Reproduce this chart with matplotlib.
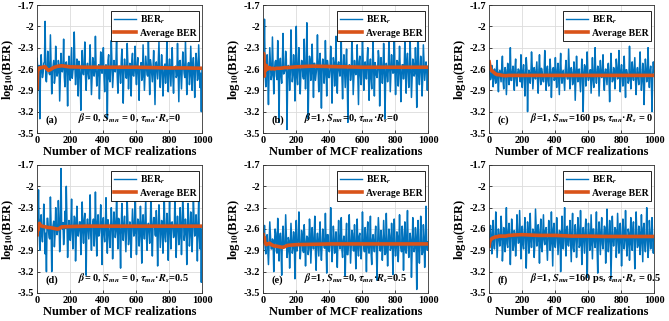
import numpy as np
import matplotlib
matplotlib.use("Agg")
import matplotlib.pyplot as plt

plt.rcParams['font.family'] = ['Liberation Serif', 'DejaVu Serif']
plt.rcParams['font.weight'] = 'bold'
plt.rcParams['mathtext.fontset'] = 'stix'
plt.rcParams['axes.unicode_minus'] = False

# ---------------- data: per-realization BER (spiky samples) ----------------
ber_a = [
-2.45,-2.88,-3.30,-2.40,-2.72,-2.52,-1.93,-2.78,-2.35,-2.66,-2.12,-2.95,-2.55,-2.80,-2.28,-2.70,-2.48,-3.05,-2.38,-2.64,-2.18,-2.85,-2.50,-3.12,-2.42,
-2.76,-2.30,-2.62,-2.08,-2.82,-2.46,-2.98,-2.56,-3.18,-2.34,-2.68,-2.22,-2.90,-2.52,-2.74,-2.26,-2.96,-2.44,-2.70,-2.14,-2.84,-2.58,-3.02,-2.36,-2.66,
-2.30,-2.92,-2.54,-3.30,-2.40,-2.78,-2.20,-2.86,-2.48,-2.64,-2.10,-2.94,-2.56,-2.80,-2.32,-3.08,-2.46,-2.72,-2.24,-2.88,-2.52,-2.98,-2.38,-2.70,-2.28,
-2.82,-2.44,-3.04,-2.58,-2.76,-2.26,-2.90,-2.42,-2.68,-2.16,-2.96,-2.54,-2.78,-2.34,-3.10,-2.50,-2.74,-2.22,-2.86,-2.40,-2.98,-2.56,-2.80,-2.18,-2.92,
-2.46,-2.84,-2.30,-2.94,-2.60,-2.72,-2.24,-3.06,-2.48,-2.88,-2.36,-2.66,-2.20,-2.96,-2.52,-2.82,-2.28,-2.90,-2.44,-3.00,-2.38,-2.76,-2.26,-2.86,-3.20]
ber_b = [
-2.55,-1.90,-2.85,-2.40,-3.10,-2.30,-2.75,-2.15,-2.95,-2.50,-2.70,-2.20,-3.35,-2.45,-2.80,-2.10,-2.65,-2.35,-3.45,-2.55,-2.90,-2.05,-2.78,-2.40,-3.05,
-2.00,-2.82,-2.30,-2.95,-2.48,-2.70,-2.18,-2.88,-1.95,-3.30,-2.42,-2.76,-2.25,-3.00,-2.52,-2.66,-2.12,-2.92,-2.38,-3.15,-2.46,-2.80,-2.20,-2.98,-2.56,
-2.72,-2.28,-3.08,-2.44,-2.84,-2.14,-2.94,-2.50,-2.70,-2.22,-3.02,-2.40,-2.86,-2.32,-3.35,-2.54,-2.76,-2.16,-2.96,-2.48,-2.68,-2.26,-3.10,-2.42,-2.82,
-2.10,-2.90,-2.50,-2.74,-2.30,-3.04,-2.46,-2.88,-2.20,-2.98,-2.56,-2.72,-2.34,-3.12,-2.44,-2.80,-2.24,-3.30,-2.52,-2.78,-2.18,-2.92,-2.40,-2.66,-2.12,
-2.96,-2.48,-2.84,-2.28,-3.06,-2.54,-2.74,-2.22,-2.94,-2.38,-2.86,-2.16,-3.00,-2.46,-2.70,-2.30,-3.14,-1.95,-2.82,-2.42,-2.98,-2.26,-2.76,-2.50,-2.90]
ber_c = [
-2.50,-2.75,-2.55,-2.85,-2.60,-2.80,-2.48,-2.92,-2.62,-2.78,-2.42,-2.88,-2.58,-2.96,-2.52,-2.82,-2.30,-2.76,-2.56,-2.90,-2.46,-2.84,-2.60,-2.72,-2.40,
-2.86,-2.54,-2.98,-2.44,-3.20,-2.62,-2.80,-2.36,-2.88,-2.58,-2.74,-2.50,-2.94,-2.40,-2.82,-2.64,-2.78,-2.34,-2.90,-2.56,-2.84,-2.46,-3.00,-2.60,-2.76,
-2.44,-2.86,-2.52,-2.96,-2.38,-2.80,-2.62,-2.90,-2.48,-2.74,-2.32,-2.88,-2.58,-2.82,-2.50,-3.04,-2.42,-2.78,-2.60,-2.92,-2.46,-3.20,-2.54,-2.84,-2.36,
-2.76,-2.62,-2.94,-2.44,-2.86,-2.30,-2.80,-2.56,-2.98,-2.48,-2.72,-2.40,-2.90,-2.60,-2.82,-2.52,-3.06,-2.38,-2.78,-2.58,-2.88,-2.46,-2.74,-2.34,-2.92,
-2.54,-2.84,-2.42,-3.00,-2.62,-2.80,-2.28,-2.88,-2.50,-2.76,-2.44,-2.96,-2.58,-2.82,-2.36,-2.90,-2.52,-3.10,-2.46,-2.78,-2.30,-2.86,-2.56,-3.20,-2.50]
ber_d = [
-2.62,-2.05,-2.90,-2.40,-2.78,-2.25,-2.95,-3.20,-2.45,-2.72,-2.15,-3.20,-2.55,-2.85,-2.30,-2.68,-2.20,-2.92,-1.75,-2.60,-2.82,-2.35,-2.00,-3.00,-2.48,
-2.76,-2.18,-2.88,-2.42,-3.05,-2.28,-2.70,-2.50,-2.96,-2.22,-2.80,-2.38,-3.25,-2.46,-2.74,-2.12,-2.90,-2.52,-2.84,-2.08,-2.98,-2.40,-2.66,-2.26,-3.10,
-2.44,-2.78,-2.16,-2.94,-2.54,-2.86,-2.30,-3.02,-2.36,-2.72,-2.10,-2.88,-2.48,-3.15,-2.24,-2.76,-2.42,-2.92,-2.20,-2.82,-2.50,-3.00,-2.32,-2.70,-2.14,
-2.96,-2.46,-2.84,-2.28,-3.08,-2.40,-2.74,-2.18,-2.90,-2.52,-2.80,-2.06,-2.98,-2.44,-2.68,-2.34,-3.12,-2.26,-2.86,-2.48,-2.94,-2.12,-2.78,-2.38,-3.04,
-2.22,-2.88,-2.50,-2.72,-2.16,-3.00,-2.42,-2.82,-2.30,-2.96,-2.08,-2.76,-2.46,-3.10,-2.24,-2.84,-2.36,-2.92,-2.14,-2.70,-2.40,-3.05,-2.20,-2.88,-3.35]
ber_e = [
-2.70,-2.55,-2.95,-2.68,-3.10,-2.50,-2.88,-2.74,-3.20,-2.60,-2.92,-2.45,-3.05,-2.66,-3.25,-2.56,-2.86,-2.40,-3.00,-2.72,-3.15,-2.52,-2.94,-2.64,-3.30,
-2.48,-2.84,-2.36,-3.02,-2.62,-2.90,-2.54,-3.12,-2.70,-2.96,-2.46,-3.08,-2.58,-2.88,-2.42,-3.18,-2.66,-2.98,-2.50,-3.04,-2.60,-2.86,-2.38,-3.22,-2.68,
-2.92,-2.30,-3.06,-2.56,-2.94,-2.64,-3.14,-2.48,-2.88,-2.44,-3.00,-2.70,-3.26,-2.52,-2.96,-2.40,-3.08,-2.62,-2.90,-2.54,-3.16,-2.46,-2.98,-2.66,-3.02,
-2.36,-2.86,-2.58,-3.20,-2.50,-2.94,-2.42,-3.10,-2.68,-2.92,-2.56,-3.32,-2.44,-2.88,-2.62,-3.04,-2.48,-2.96,-2.38,-3.12,-2.60,-2.90,-2.52,-3.24,-2.46,
-2.98,-2.64,-3.06,-2.40,-2.86,-2.56,-3.18,-2.50,-2.94,-2.34,-3.00,-2.66,-3.28,-2.44,-2.92,-2.58,-3.45,-2.48,-3.08,-2.42,-2.96,-2.54,-3.14,-2.28,-2.90]
ber_f = [
-2.82,-2.55,-2.95,-2.48,-2.88,-2.36,-3.00,-2.60,-2.84,-2.42,-3.05,-2.58,-2.92,-2.30,-2.86,-2.52,-3.10,-2.46,-2.90,-2.62,-2.98,-2.40,-2.80,-2.34,-3.02,
-2.56,-2.88,-2.44,-3.15,-2.50,-2.94,-2.38,-2.86,-2.60,-3.00,-2.32,-2.84,-2.54,-3.08,-2.46,-2.92,-2.40,-2.82,-2.58,-3.04,-2.48,-2.90,-2.36,-3.12,-2.52,
-2.86,-2.44,-2.96,-2.62,-3.20,-2.42,-2.88,-2.30,-2.98,-2.56,-2.84,-2.48,-3.06,-2.38,-2.92,-2.54,-3.00,-2.44,-2.86,-2.34,-3.10,-2.58,-2.94,-2.46,-3.28,
-2.52,-2.90,-2.40,-3.02,-2.60,-2.86,-2.36,-3.22,-2.50,-2.96,-2.44,-2.88,-2.56,-3.08,-2.32,-2.92,-2.48,-3.30,-2.42,-2.84,-2.58,-3.00,-2.38,-2.94,-2.52,
-3.12,-2.46,-2.88,-2.34,-2.98,-2.60,-3.04,-2.44,-2.90,-2.50,-3.16,-2.36,-2.86,-2.56,-2.96,-2.40,-3.06,-2.52,-2.92,-2.30,-3.00,-2.48,-2.88,-2.44,-2.94]

# ---------------- data: per-realization BER (samples near the dense core) ----------------
core_a = [
-2.62,-2.55,-2.70,-2.58,-2.66,-2.50,-2.74,-2.60,-2.52,-2.68,-2.57,-2.63,-2.48,-2.72,-2.59,-2.65,-2.54,-2.69,-2.61,-2.56,-2.71,-2.53,-2.64,-2.58,-2.67,
-2.51,-2.73,-2.60,-2.56,-2.68,-2.62,-2.49,-2.75,-2.57,-2.64,-2.53,-2.70,-2.59,-2.66,-2.55,-2.61,-2.72,-2.50,-2.63,-2.58,-2.69,-2.54,-2.65,-2.60,-2.52,
-2.70,-2.57,-2.63,-2.48,-2.74,-2.59,-2.55,-2.67,-2.61,-2.52,-2.71,-2.58,-2.64,-2.50,-2.68,-2.62,-2.56,-2.73,-2.53,-2.66,-2.60,-2.49,-2.69,-2.57,-2.65,
-2.55,-2.68,-2.61,-2.51,-2.72,-2.58,-2.64,-2.54,-2.70,-2.60,-2.47,-2.66,-2.59,-2.73,-2.56,-2.62,-2.50,-2.69,-2.63,-2.57,-2.75,-2.53,-2.61,-2.67,-2.58,
-2.64,-2.52,-2.71,-2.59,-2.56,-2.69,-2.62,-2.49,-2.67,-2.60,-2.54,-2.72,-2.58,-2.65,-2.51,-2.70,-2.61,-2.55,-2.68,-2.63,-2.50,-2.74,-2.57,-2.66,-2.60]
core_b = [
-2.58,-2.66,-2.50,-2.72,-2.61,-2.54,-2.69,-2.57,-2.64,-2.48,-2.75,-2.60,-2.55,-2.70,-2.52,-2.67,-2.62,-2.46,-2.73,-2.59,-2.65,-2.51,-2.68,-2.56,-2.63,
-2.71,-2.53,-2.60,-2.66,-2.49,-2.74,-2.58,-2.62,-2.55,-2.69,-2.47,-2.64,-2.61,-2.52,-2.76,-2.57,-2.63,-2.50,-2.70,-2.59,-2.54,-2.67,-2.62,-2.48,-2.72,
-2.60,-2.56,-2.68,-2.51,-2.65,-2.73,-2.54,-2.61,-2.49,-2.70,-2.58,-2.64,-2.53,-2.77,-2.60,-2.55,-2.67,-2.46,-2.71,-2.62,-2.57,-2.66,-2.50,-2.69,-2.59,
-2.53,-2.72,-2.61,-2.48,-2.66,-2.58,-2.74,-2.55,-2.63,-2.51,-2.69,-2.60,-2.45,-2.71,-2.57,-2.64,-2.52,-2.75,-2.59,-2.62,-2.49,-2.68,-2.56,-2.65,-2.61,
-2.67,-2.50,-2.63,-2.58,-2.73,-2.54,-2.60,-2.69,-2.47,-2.65,-2.61,-2.55,-2.72,-2.52,-2.66,-2.59,-2.48,-2.70,-2.62,-2.57,-2.74,-2.53,-2.64,-2.60,-2.58]
core_c = [
-2.66,-2.72,-2.62,-2.75,-2.68,-2.60,-2.74,-2.65,-2.70,-2.58,-2.77,-2.67,-2.63,-2.73,-2.61,-2.69,-2.76,-2.64,-2.71,-2.59,-2.74,-2.66,-2.62,-2.78,-2.68,
-2.63,-2.71,-2.67,-2.60,-2.75,-2.65,-2.69,-2.57,-2.73,-2.68,-2.62,-2.76,-2.64,-2.70,-2.59,-2.74,-2.66,-2.72,-2.61,-2.77,-2.67,-2.63,-2.70,-2.58,-2.75,
-2.69,-2.64,-2.73,-2.60,-2.71,-2.66,-2.76,-2.62,-2.68,-2.74,-2.59,-2.70,-2.65,-2.78,-2.63,-2.72,-2.67,-2.61,-2.75,-2.68,-2.64,-2.71,-2.57,-2.73,-2.66,
-2.72,-2.61,-2.68,-2.75,-2.63,-2.70,-2.66,-2.59,-2.74,-2.67,-2.62,-2.77,-2.65,-2.71,-2.60,-2.73,-2.68,-2.64,-2.76,-2.62,-2.70,-2.58,-2.72,-2.67,-2.63,
-2.70,-2.65,-2.74,-2.61,-2.69,-2.76,-2.63,-2.71,-2.67,-2.59,-2.75,-2.66,-2.72,-2.62,-2.68,-2.77,-2.64,-2.70,-2.60,-2.73,-2.67,-2.63,-2.74,-2.69,-2.65]
core_d = [
-2.55,-2.63,-2.48,-2.70,-2.58,-2.52,-2.66,-2.45,-2.61,-2.74,-2.54,-2.60,-2.49,-2.68,-2.57,-2.62,-2.46,-2.72,-2.56,-2.51,-2.65,-2.59,-2.47,-2.69,-2.58,
-2.53,-2.67,-2.60,-2.44,-2.71,-2.56,-2.62,-2.50,-2.66,-2.58,-2.48,-2.73,-2.55,-2.61,-2.52,-2.69,-2.57,-2.46,-2.64,-2.59,-2.51,-2.70,-2.54,-2.63,-2.49,
-2.68,-2.56,-2.60,-2.47,-2.72,-2.58,-2.53,-2.65,-2.50,-2.62,-2.57,-2.45,-2.70,-2.55,-2.64,-2.52,-2.67,-2.59,-2.48,-2.73,-2.56,-2.61,-2.51,-2.66,-2.54,
-2.60,-2.49,-2.69,-2.57,-2.53,-2.64,-2.46,-2.71,-2.58,-2.62,-2.50,-2.67,-2.55,-2.44,-2.70,-2.59,-2.63,-2.52,-2.68,-2.56,-2.48,-2.72,-2.58,-2.61,-2.53,
-2.65,-2.51,-2.58,-2.69,-2.47,-2.62,-2.56,-2.73,-2.54,-2.60,-2.45,-2.67,-2.57,-2.63,-2.50,-2.71,-2.55,-2.59,-2.48,-2.66,-2.61,-2.52,-2.70,-2.57,-2.62]
core_e = [
-2.78,-2.86,-2.72,-2.90,-2.80,-2.70,-2.88,-2.76,-2.83,-2.66,-2.94,-2.79,-2.74,-2.89,-2.71,-2.85,-2.81,-2.68,-2.92,-2.77,-2.84,-2.73,-2.87,-2.75,-2.82,
-2.91,-2.74,-2.80,-2.86,-2.69,-2.93,-2.78,-2.82,-2.72,-2.88,-2.67,-2.84,-2.79,-2.73,-2.95,-2.76,-2.83,-2.70,-2.89,-2.81,-2.75,-2.87,-2.80,-2.68,-2.90,
-2.79,-2.75,-2.88,-2.71,-2.85,-2.92,-2.74,-2.81,-2.69,-2.90,-2.77,-2.83,-2.72,-2.96,-2.80,-2.76,-2.86,-2.66,-2.91,-2.82,-2.78,-2.85,-2.70,-2.88,-2.79,
-2.73,-2.92,-2.81,-2.68,-2.86,-2.77,-2.93,-2.75,-2.83,-2.71,-2.89,-2.80,-2.65,-2.91,-2.76,-2.84,-2.72,-2.94,-2.79,-2.82,-2.69,-2.87,-2.74,-2.85,-2.80,
-2.87,-2.70,-2.83,-2.78,-2.92,-2.74,-2.80,-2.89,-2.67,-2.85,-2.81,-2.75,-2.91,-2.72,-2.86,-2.79,-2.68,-2.90,-2.82,-2.77,-2.93,-2.73,-2.84,-2.80,-2.78]
core_f = [
-2.70,-2.78,-2.64,-2.82,-2.72,-2.62,-2.80,-2.68,-2.75,-2.60,-2.85,-2.71,-2.66,-2.81,-2.63,-2.77,-2.73,-2.61,-2.83,-2.69,-2.76,-2.65,-2.79,-2.67,-2.74,
-2.82,-2.66,-2.72,-2.78,-2.61,-2.84,-2.70,-2.74,-2.64,-2.80,-2.59,-2.76,-2.71,-2.65,-2.86,-2.68,-2.75,-2.62,-2.81,-2.73,-2.67,-2.79,-2.72,-2.60,-2.83,
-2.71,-2.67,-2.80,-2.63,-2.77,-2.84,-2.66,-2.73,-2.61,-2.82,-2.69,-2.75,-2.64,-2.87,-2.72,-2.68,-2.78,-2.59,-2.83,-2.74,-2.70,-2.77,-2.62,-2.80,-2.71,
-2.65,-2.83,-2.73,-2.60,-2.78,-2.69,-2.85,-2.67,-2.75,-2.63,-2.81,-2.72,-2.58,-2.82,-2.68,-2.76,-2.64,-2.86,-2.71,-2.74,-2.61,-2.79,-2.66,-2.77,-2.72,
-2.79,-2.62,-2.75,-2.70,-2.84,-2.66,-2.72,-2.81,-2.60,-2.77,-2.73,-2.67,-2.83,-2.64,-2.78,-2.71,-2.59,-2.82,-2.74,-2.69,-2.85,-2.65,-2.76,-2.72,-2.70]

# ---------------- data: running average BER ----------------
avg_x = [1, 3, 5, 8, 10, 15, 20, 30, 40, 50, 60, 70, 80, 100, 120, 130, 150,
         200, 300, 400, 500, 600, 700, 800, 900, 1000]
avg_a = [-2.87, -2.70, -2.60, -2.60, -2.59, -2.59, -2.58, -2.58, -2.57, -2.57, -2.60, -2.62, -2.61,
         -2.58, -2.565, -2.56, -2.555, -2.57, -2.575, -2.575, -2.575, -2.575, -2.58, -2.585, -2.585, -2.59]
avg_b = [-2.55, -2.38, -2.45, -2.70, -2.55, -2.62, -2.55, -2.60, -2.58, -2.60, -2.59, -2.60, -2.59,
         -2.59, -2.585, -2.58, -2.58, -2.57, -2.56, -2.565, -2.57, -2.575, -2.575, -2.575, -2.575, -2.575]
avg_c = [-2.50, -2.53, -2.56, -2.58, -2.60, -2.62, -2.63, -2.65, -2.67, -2.68, -2.68, -2.685, -2.69,
         -2.695, -2.69, -2.69, -2.69, -2.69, -2.69, -2.69, -2.69, -2.69, -2.69, -2.69, -2.69, -2.69]
avg_d = [-2.68, -2.55, -2.62, -2.56, -2.54, -2.52, -2.55, -2.56, -2.565, -2.57, -2.575, -2.58, -2.58,
         -2.59, -2.60, -2.60, -2.57, -2.565, -2.56, -2.56, -2.56, -2.56, -2.56, -2.56, -2.56, -2.56]
avg_e = [-2.68, -2.72, -2.76, -2.72, -2.78, -2.80, -2.82, -2.81, -2.80, -2.82, -2.83, -2.84, -2.84,
         -2.85, -2.86, -2.85, -2.83, -2.82, -2.815, -2.81, -2.81, -2.81, -2.81, -2.81, -2.81, -2.81]
avg_f = [-2.84, -2.80, -2.78, -2.76, -2.75, -2.74, -2.73, -2.72, -2.71, -2.71, -2.70, -2.70, -2.70,
         -2.70, -2.69, -2.69, -2.685, -2.68, -2.69, -2.69, -2.70, -2.70, -2.705, -2.705, -2.705, -2.705]

panel_tags = ["(a)", "(b)", "(c)", "(d)", "(e)", "(f)"]
panel_params = [
    r"$\beta$= 0, $S_{mn}$ = 0, $\tau_{mn}$·$R_s$=0",
    r"$\beta$=1, $S_{mn}$=0, $\tau_{mn}$·$R_s$=0",
    r"$\beta$=1, $S_{mn}$=160 ps, $\tau_{mn}$·$R_s$ = 0",
    r"$\beta$= 0, $S_{mn}$ = 0, $\tau_{mn}$·$R_s$=0.5",
    r"$\beta$=1, $S_{mn}$=0, $\tau_{mn}$·$R_s$=0.5",
    r"$\beta$=1, $S_{mn}$=160 ps, $\tau_{mn}$·$R_s$ = 0.5",
]
spiky_series = [ber_a, ber_b, ber_c, ber_d, ber_e, ber_f]
core_series = [core_a, core_b, core_c, core_d, core_e, core_f]
avg_series = [avg_a, avg_b, avg_c, avg_d, avg_e, avg_f]

y_ticks = [-3.5, -3.2, -2.9, -2.6, -2.3, -2, -1.7]
y_ticklabels = ["-3.5", "-3.2", "-2.9", "-2.6", "-2.3", "-2", "-1.7"]
x_ticks = [0, 200, 400, 600, 800, 1000]

# ---------------- figure ----------------
W, H = 669, 321
fig = plt.figure(figsize=(W / 100, H / 100), dpi=100)
lefts = [37, 263, 489]
tops = [5, 165]
aw, ah = 165, 128

blue = '#0072BD'
orange = '#D95319'

for i in range(6):
    r, c = divmod(i, 3)
    l = lefts[c]
    t = tops[r]
    ax = fig.add_axes([l / W, (H - t - ah) / H, aw / W, ah / H])
    n = len(spiky_series[i]) + len(core_series[i])
    ber = np.empty(n)
    ber[0::2] = spiky_series[i]
    ber[1::2] = core_series[i]
    x = np.linspace(1, 1000, n)
    ax.plot(x, ber, color=blue, lw=1.1, label=r'BER$_r$')
    ax.plot(avg_x, avg_series[i], color=orange, lw=2.6, label='Average BER')
    ax.set_xlim(0, 1000)
    ax.set_ylim(-3.5, -1.7)
    ax.set_xticks(x_ticks)
    ax.set_yticks(y_ticks)
    ax.set_yticklabels(y_ticklabels)
    ax.tick_params(labelsize=7.5, length=2, width=0.5, direction='in', pad=2)
    for lab in ax.get_xticklabels() + ax.get_yticklabels():
        lab.set_fontweight('bold')
    ax.grid(True, color='#dcdcdc', lw=0.6)
    ax.set_axisbelow(True)
    for s in ax.spines.values():
        s.set_linewidth(0.6)
        s.set_color('#333333')
    ax.set_xlabel('Number of MCF realizations', fontsize=9, fontweight='bold', labelpad=1)
    ax.set_ylabel(r'log$_{10}$(BER)', fontsize=9, fontweight='bold', labelpad=1)
    leg = ax.legend(loc='upper right', bbox_to_anchor=(0.995, 0.97), fontsize=7,
                    frameon=True, fancybox=False, edgecolor='black', framealpha=1,
                    handlelength=2.2, handletextpad=0.4, borderpad=0.3, labelspacing=0.25,
                    borderaxespad=0.2)
    leg.get_frame().set_linewidth(0.6)
    leg.get_lines()[0].set_linewidth(1.0)
    for txt in leg.get_texts():
        txt.set_fontweight('bold')
    ax.text(0.05, 0.06, panel_tags[i], transform=ax.transAxes, fontsize=7.5,
            fontweight='bold', va='bottom', ha='left')
    ax.text(0.25, 0.06, panel_params[i], transform=ax.transAxes, fontsize=7.5,
            fontweight='bold', va='bottom', ha='left')

fig.savefig('out.png', dpi=100)
